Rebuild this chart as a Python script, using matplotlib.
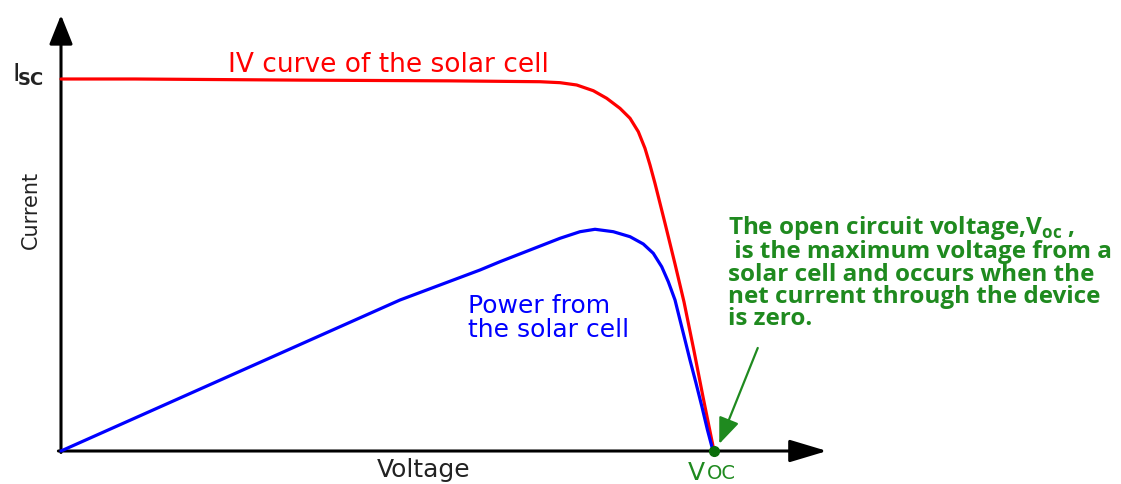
import matplotlib
matplotlib.use("Agg")
import matplotlib.pyplot as plt

# ---- data (voltage normalised so that Voc = 1, current/power normalised to Isc = 1) ----
iv_voltage = [0.0, 0.113, 0.366, 0.596, 0.7335, 0.7642, 0.7897, 0.8152, 0.8357, 0.8560,
              0.8714, 0.8841, 0.8943, 0.9020, 0.9096, 0.9173, 0.9250, 0.9326, 0.9403,
              0.9541, 0.9694, 0.9832, 1.0]
iv_current = [1.0, 1.0, 0.997, 0.995, 0.9927, 0.9901, 0.9839, 0.9685, 0.9481, 0.9212,
              0.8944, 0.8583, 0.8137, 0.7688, 0.7196, 0.6659, 0.6121, 0.5578, 0.5027,
              0.4005, 0.2688, 0.1452, 0.0]

power_voltage = [0.0, 0.5191, 0.6417, 0.6723, 0.7182, 0.7642, 0.7948, 0.8178, 0.8458,
                 0.8714, 0.8917, 0.9070, 0.9199, 0.9300, 0.9403, 0.9479, 0.9556, 0.9632,
                 0.9724, 0.9816, 0.9900, 0.9985]
power_value = [0.0, 0.4059, 0.4866, 0.5089, 0.5403, 0.5718, 0.5895, 0.5960, 0.5895,
               0.5761, 0.5565, 0.5315, 0.4954, 0.4551, 0.4059, 0.3522, 0.2984, 0.2446,
               0.1828, 0.1183, 0.0565, 0.0]

voc_point = (1.0, 0.0)

iv_label = "IV curve of the solar cell"
power_label = "Power from\nthe solar cell"
x_label = "Voltage"
y_label = "Current"
note_lines = [r"The open circuit voltage,V$_{\mathregular{oc}}$ ,",
              " is the maximum voltage from a",
              "solar cell and occurs when the",
              "net current through the device",
              "is zero."]

# ---- figure ----
W, H = 1121, 484
fig = plt.figure(figsize=(W / 100, H / 100), dpi=100)
ax = fig.add_axes([0, 0, 1, 1])
ax.set_xlim(-61 / 653, (W - 61) / 653)
ax.set_ylim(-(H - 451) / 372, 451 / 372)
ax.axis("off")

GREEN = "#1f8a1f"

# axes arrows
ax.annotate("", xy=(0, 1.172), xytext=(0, -0.004),
            arrowprops=dict(arrowstyle="-|>,head_length=1.0,head_width=0.4",
                            mutation_scale=18, lw=2.2, color="black",
                            shrinkA=0, shrinkB=0))
ax.annotate("", xy=(1.173, 0), xytext=(-0.004, 0),
            arrowprops=dict(arrowstyle="-|>,head_length=1.0,head_width=0.3",
                            mutation_scale=23, lw=2.2, color="black",
                            shrinkA=0, shrinkB=0))

# curves
ax.plot(iv_voltage, iv_current, color="#ff0000", lw=2.3,
        solid_joinstyle="round", solid_capstyle="round", zorder=3)
ax.plot(power_voltage, power_value, color="#0000ff", lw=2.3,
        solid_joinstyle="round", solid_capstyle="round", zorder=3)

# Voc point
ax.plot([voc_point[0]], [voc_point[1]], "o", color="#0a6e0a", markersize=7, zorder=5)

# green arrow to Voc
ax.annotate("", xy=(1.008, 0.019), xytext=(1.067, 0.277),
            arrowprops=dict(arrowstyle="-|>,head_length=1.0,head_width=0.4",
                            mutation_scale=16, lw=1.6, color=GREEN,
                            shrinkA=0, shrinkB=0), zorder=6)

# text labels
ax.text(0.2557, 1.018, iv_label, color="#ff0000", fontsize=19,
        family="DejaVu Sans", va="baseline", ha="left")
ax.text(0.623, 0.421, power_label, color="#0000ff", fontsize=18,
        family="DejaVu Sans", va="top", ha="left", linespacing=1.0)

ax.text(-0.075, 0.995, "I", color="#222222", fontsize=18,
        family="DejaVu Sans", va="baseline", ha="left")
ax.text(-0.066, 0.985, "SC", color="#222222", fontsize=13, fontweight="bold",
        family="DejaVu Sans", va="baseline", ha="left")

ax.text(-0.046, 0.648, y_label, color="#222222", fontsize=15, rotation=90,
        family="DejaVu Sans", va="center", ha="center")
ax.text(0.556, -0.020, x_label, color="#222222", fontsize=18,
        family="DejaVu Sans", va="top", ha="center")

ax.text(0.960, -0.028, "V", color=GREEN, fontsize=18,
        family="DejaVu Sans", va="top", ha="left")
ax.text(0.989, -(479 - 451) / 372, "OC", color=GREEN, fontsize=14,
        family="DejaVu Sans", va="baseline", ha="left")

# explanatory note (va="baseline" anchors the last line)
ax.text(1.022, (451 - 325) / 372, "\n".join(note_lines), color=GREEN, fontsize=17.5,
        family="Open Sans", fontweight="bold", va="baseline", ha="left",
        linespacing=0.9)

fig.savefig("out.png", dpi=100, facecolor="white")
